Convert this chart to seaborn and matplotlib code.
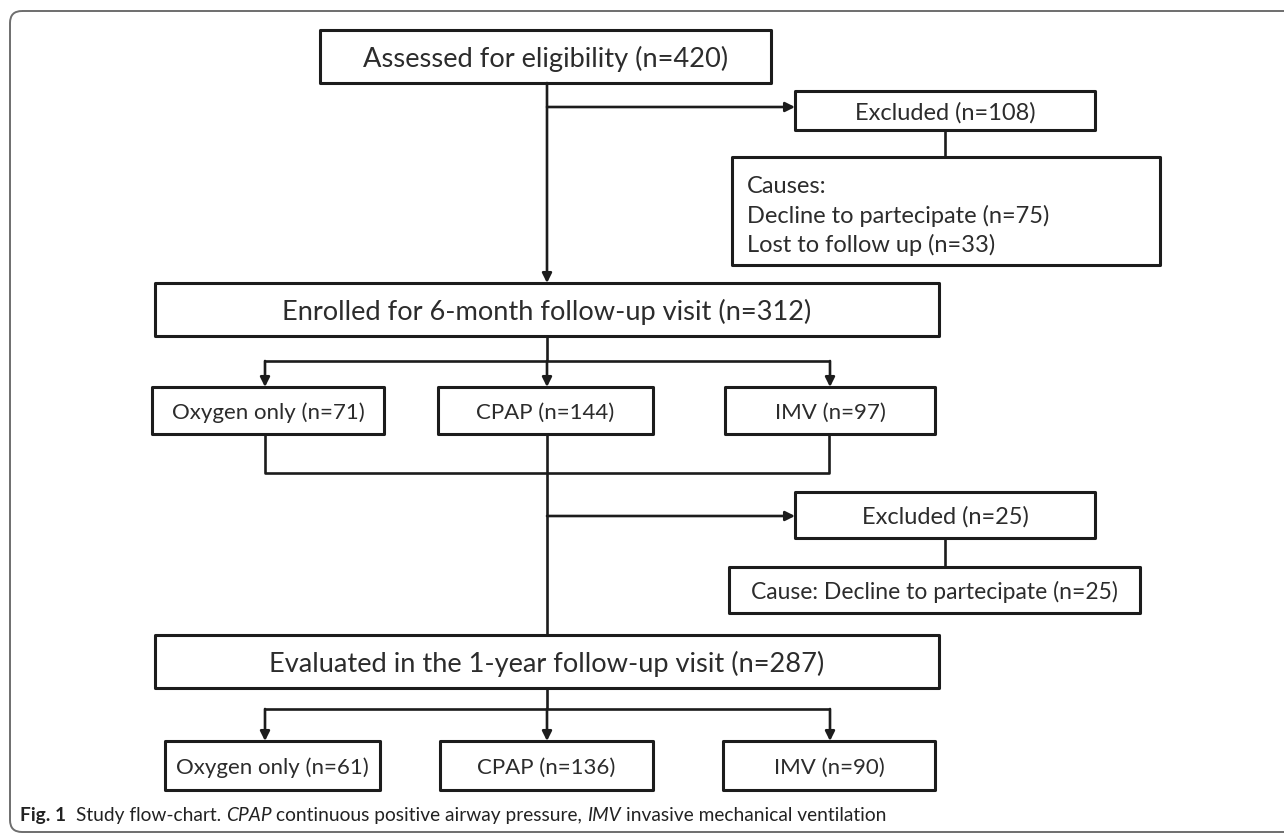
import numpy as np
import pandas as pd
import matplotlib
matplotlib.use("Agg")
import matplotlib.pyplot as plt
import seaborn as sns
from matplotlib.patches import Rectangle, FancyBboxPatch

sns.set_theme(style="white")
plt.rcParams['font.family'] = ['Lato', 'DejaVu Sans']

# --- data read from the flow-chart ---
stages = ["Assessed for eligibility", "Enrolled for 6-month follow-up visit",
          "Evaluated in the 1-year follow-up visit"]
stage_n = [420, 312, 287]
groups = ["Oxygen only", "CPAP", "IMV"]
n_6month = [71, 144, 97]
n_1year = [61, 136, 90]
excluded_n = [108, 25]
causes_first = ["Decline to partecipate", "Lost to follow up"]
causes_first_n = [75, 33]
cause_second = "Decline to partecipate"
cause_second_n = 25

# --- layout (pixels, y downwards) ---
W, H = 1284, 833
CX = 547                       # main vertical axis
BRANCH_X = [265, CX, 830]      # x of the three group columns
stage_boxes = [(320, 30, 771, 83), (155, 283, 939, 336), (155, 635, 939, 688)]
group_boxes_6m = [(152, 387, 384, 434), (438, 387, 653, 434), (725, 387, 935, 434)]
group_boxes_1y = [(165, 741, 380, 790), (440, 741, 653, 790), (723, 741, 935, 790)]
excl_boxes = [(795, 91, 1095, 130), (795, 492, 1095, 538)]
cause_boxes = [(732, 157, 1160, 265), (729, 567, 1140, 613)]
EXCL_CX = 945

EDGE = "#1c1c1c"
LINE = "#1c1c1c"
TXT = "#2c2c2c"
FS_STAGE = 19.6
FS_GROUP = 16
FS_EXCL = 17
FS_CAUSE2 = 16.5

fig = plt.figure(figsize=(W / 100, H / 100), dpi=100)
ax = fig.add_axes([0, 0, 1, 1])
ax.set_xlim(0, W)
ax.set_ylim(H, 0)
ax.axis("off")

# outer rounded frame
ax.add_patch(FancyBboxPatch((10, 11), W + 30, H - 12,
                            boxstyle="round,pad=0,rounding_size=12",
                            fill=False, ec="#6e6e6e", lw=1.4))


def box(b, text=None, fs=FS_GROUP):
    x0, y0, x1, y1 = b
    ax.add_patch(Rectangle((x0, y0), x1 - x0, y1 - y0, fill=False,
                           ec=EDGE, lw=2.2, joinstyle="round"))
    if text:
        ax.text((x0 + x1) / 2, (y0 + y1) / 2, text, ha="center",
                va="center_baseline", fontsize=fs, color=TXT)


def line(xs, ys):
    ax.plot(xs, ys, color=LINE, lw=1.9, solid_capstyle="butt")


def arrow(x0, y0, x1, y1):
    ax.annotate("", xy=(x1, y1), xytext=(x0, y0),
                arrowprops=dict(arrowstyle="-|>", color=LINE, lw=1.9,
                                mutation_scale=14, shrinkA=0, shrinkB=0))


# boxes
for b, s, n in zip(stage_boxes, stages, stage_n):
    box(b, f"{s} (n={n})", FS_STAGE)
for b, g, n in zip(group_boxes_6m, groups, n_6month):
    box(b, f"{g} (n={n})")
for b, g, n in zip(group_boxes_1y, groups, n_1year):
    box(b, f"{g} (n={n})")
for b, n in zip(excl_boxes, excluded_n):
    box(b, f"Excluded (n={n})", FS_EXCL)

# first causes box, left aligned lines
box(cause_boxes[0])
cause_lines = ["Causes:"] + [f"{c} (n={n})" for c, n in zip(causes_first, causes_first_n)]
for i, t in enumerate(cause_lines):
    ax.text(cause_boxes[0][0] + 15, 184 + i * 29.5, t, ha="left",
            va="center_baseline", fontsize=FS_EXCL, color=TXT)
box(cause_boxes[1], f"Cause: {cause_second} (n={cause_second_n})", FS_CAUSE2)

# connectors
arrow(CX, stage_boxes[0][3], CX, stage_boxes[1][1])
arrow(CX, 107, excl_boxes[0][0], 107)
line([EXCL_CX, EXCL_CX], [excl_boxes[0][3], cause_boxes[0][1]])

line([CX, CX], [stage_boxes[1][3], 361])
line([BRANCH_X[0], BRANCH_X[2]], [361, 361])
for bx in BRANCH_X:
    arrow(bx, 361, bx, group_boxes_6m[0][1])

line([BRANCH_X[0], BRANCH_X[0], 829, 829], [434, 473, 473, 434])
line([CX, CX], [group_boxes_6m[1][3], stage_boxes[2][1]])
arrow(CX, 516, excl_boxes[1][0], 516)
line([EXCL_CX, EXCL_CX], [excl_boxes[1][3], cause_boxes[1][1]])

line([CX, CX], [stage_boxes[2][3], 709])
line([BRANCH_X[0], BRANCH_X[2]], [709, 709])
for bx in BRANCH_X:
    arrow(bx, 709, bx, group_boxes_1y[0][1])

# caption with mixed styles
parts = [("Fig. 1", "bold", "normal", 0),
         ("Study flow-chart.", "normal", "normal", 7),
         ("CPAP", "normal", "italic", 3.5),
         ("continuous positive airway pressure,", "normal", "normal", 3.5),
         ("IMV", "normal", "italic", 3.5),
         ("invasive mechanical ventilation", "normal", "normal", 3.5)]
CAP_FS = 13.8
t = ax.text(20, 821, parts[0][0], fontsize=CAP_FS, fontweight="bold",
            color="#222222", ha="left", va="baseline")
for s, w, st, gap in parts[1:]:
    t = ax.annotate(s, xy=(1, 0), xycoords=t, xytext=(gap, 0),
                    textcoords="offset points", ha="left", va="bottom",
                    fontsize=CAP_FS, fontweight=w, fontstyle=st, color="#222222")

fig.savefig("out.png", dpi=100, facecolor="white")
